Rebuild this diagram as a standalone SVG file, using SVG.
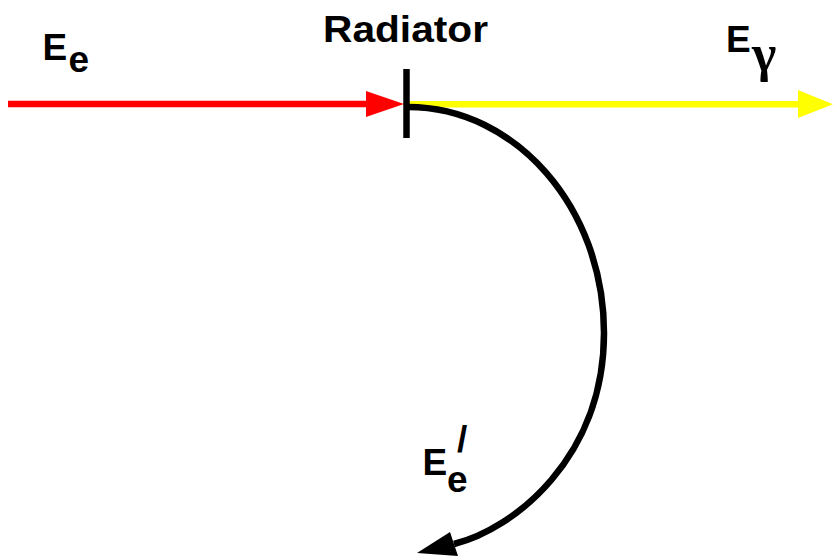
<svg xmlns="http://www.w3.org/2000/svg" width="833" height="558" viewBox="0 0 833 558">
<style>
.lbl{font-family:"Liberation Sans",Arial,sans-serif;font-weight:bold;font-size:37px;fill:#000}
.greek{font-family:"Liberation Serif","DejaVu Serif",serif;font-weight:bold;font-size:52px;fill:#000}
</style>
<rect width="833" height="558" fill="#fff"/>
<g id="connectors">
  <g id="incoming">
    <line x1="8" y1="104" x2="370" y2="104" stroke="#ff0000" stroke-width="6.6"/>
    <polygon points="366,91 404,104 366,117" fill="#ff0000"/>
  </g>
  <g id="photon">
    <line x1="408" y1="104.3" x2="802" y2="104.3" stroke="#ffff00" stroke-width="6.6"/>
    <polygon points="798,90 833,104.3 798,118" fill="#ffff00"/>
  </g>
  <g id="deflected">
    <path d="M408,107 C516,107 604,208 604,333 C604,458 514,529 454,544" fill="none" stroke="#000" stroke-width="6.5"/>
    <polygon points="417,553 450,532 458,556" fill="#000"/>
  </g>
</g>
<g id="radiator">
  <line x1="406.5" y1="69" x2="406.5" y2="138" stroke="#000" stroke-width="6.5"/>
  <text class="lbl" x="323" y="42" font-size="36" textLength="165" lengthAdjust="spacingAndGlyphs">Radiator</text>
</g>
<g id="label-Ee">
  <text class="lbl" x="42.5" y="60">E</text>
  <text class="lbl" x="68.5" y="72">e</text>
</g>
<g id="label-Egamma">
  <text class="lbl" x="726" y="52">E</text>
  <text class="greek" x="752" y="71">γ</text>
</g>
<g id="label-Eeprime">
  <text class="lbl" x="422.5" y="475">E</text>
  <text class="lbl" x="447" y="492">e</text>
  <text class="lbl" x="457" y="452" font-size="41">/</text>
</g>
</svg>
